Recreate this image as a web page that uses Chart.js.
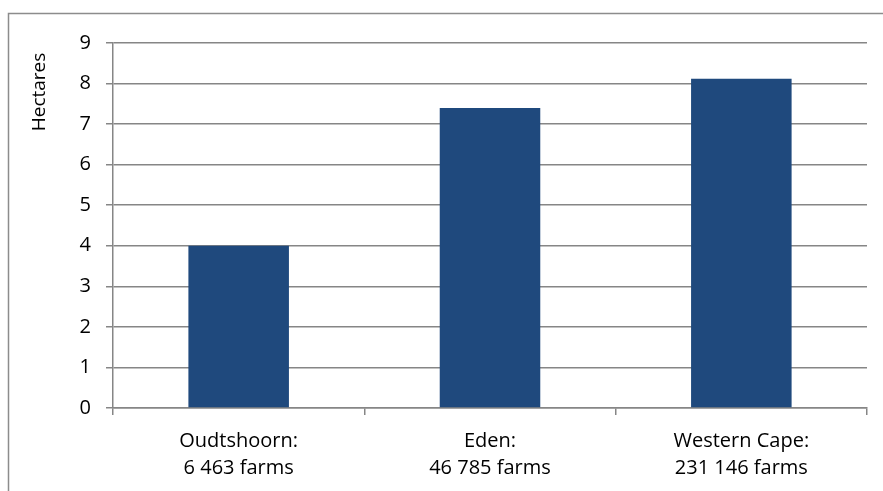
<!DOCTYPE html>
<html>
<head>
<meta charset="utf-8">
<script src="https://cdn.jsdelivr.net/npm/chart.js@4"></script>
<style>
  html, body { margin: 0; padding: 0; background: #fff; }
</style>
</head>
<body>
<canvas id="myChart" width="883" height="491"></canvas>
<script>
const places = [['Oudtshoorn:', '6 463 farms'], ['Eden:', '46 785 farms'], ['Western Cape:', '231 146 farms']];
const hectares = [4.0, 7.4, 8.12];
const yTicks = [0, 1, 2, 3, 4, 5, 6, 7, 8, 9];
const axisTitle = 'Hectares';

const gray = '#868686';
const fontFamily = '"Open Sans", Lato, sans-serif';

// outer frame + rotated axis title
const framePlugin = {
    id: 'frame',
    beforeDraw(chart) {
        const ctx = chart.ctx;
        ctx.save();
        ctx.strokeStyle = '#8c8c8c';
        ctx.lineWidth = 1.5;
        ctx.strokeRect(8.5, 13.5, 1000, 1000);
        ctx.restore();
    },
    afterDraw(chart) {
        const ctx = chart.ctx;
        ctx.save();
        ctx.translate(40, 92);
        ctx.rotate(-Math.PI / 2);
        ctx.fillStyle = '#000';
        ctx.font = '19px ' + fontFamily;
        ctx.textAlign = 'center';
        ctx.textBaseline = 'middle';
        ctx.fillText(axisTitle, 0, 0);
        ctx.restore();
    }
};

var ctx = document.getElementById('myChart').getContext('2d');

var myChart = new Chart(ctx, { // eslint-disable-line
    type: 'bar',
    data: {
        labels: places,
        datasets: [
            {
                label: axisTitle,
                data: hectares,
                backgroundColor: '#1F497D',
                borderWidth: 0,
                barPercentage: 0.4,
                categoryPercentage: 1
            }
        ]
    },
    options: {
        responsive: false,
        animation: false,
        layout: {
            padding: { top: 43, right: 16, left: 0, bottom: 0 }
        },
        plugins: {
            legend: { display: false },
            tooltip: { enabled: false }
        },
        scales: {
            x: {
                grid: {
                    offset: true,
                    drawOnChartArea: false,
                    color: gray,
                    lineWidth: 1.5,
                    tickLength: 7
                },
                border: { color: gray, width: 1.5 },
                ticks: {
                    color: '#000',
                    padding: 12,
                    font: { family: fontFamily, size: 20, lineHeight: 1.38 },
                    maxRotation: 0
                },
                afterFit(scale) { scale.height = 83; }
            },
            y: {
                min: 0,
                max: 9,
                afterBuildTicks(scale) {
                    scale.ticks = yTicks.map(v => ({ value: v }));
                },
                grid: {
                    color: gray,
                    lineWidth: 1.5,
                    tickLength: 7
                },
                border: { color: gray, width: 1.5 },
                ticks: {
                    color: '#000',
                    padding: 15,
                    font: { family: fontFamily, size: 20 }
                },
                afterFit(scale) { scale.width = 113; }
            }
        }
    },
    plugins: [framePlugin]
});
</script>
</body>
</html>
